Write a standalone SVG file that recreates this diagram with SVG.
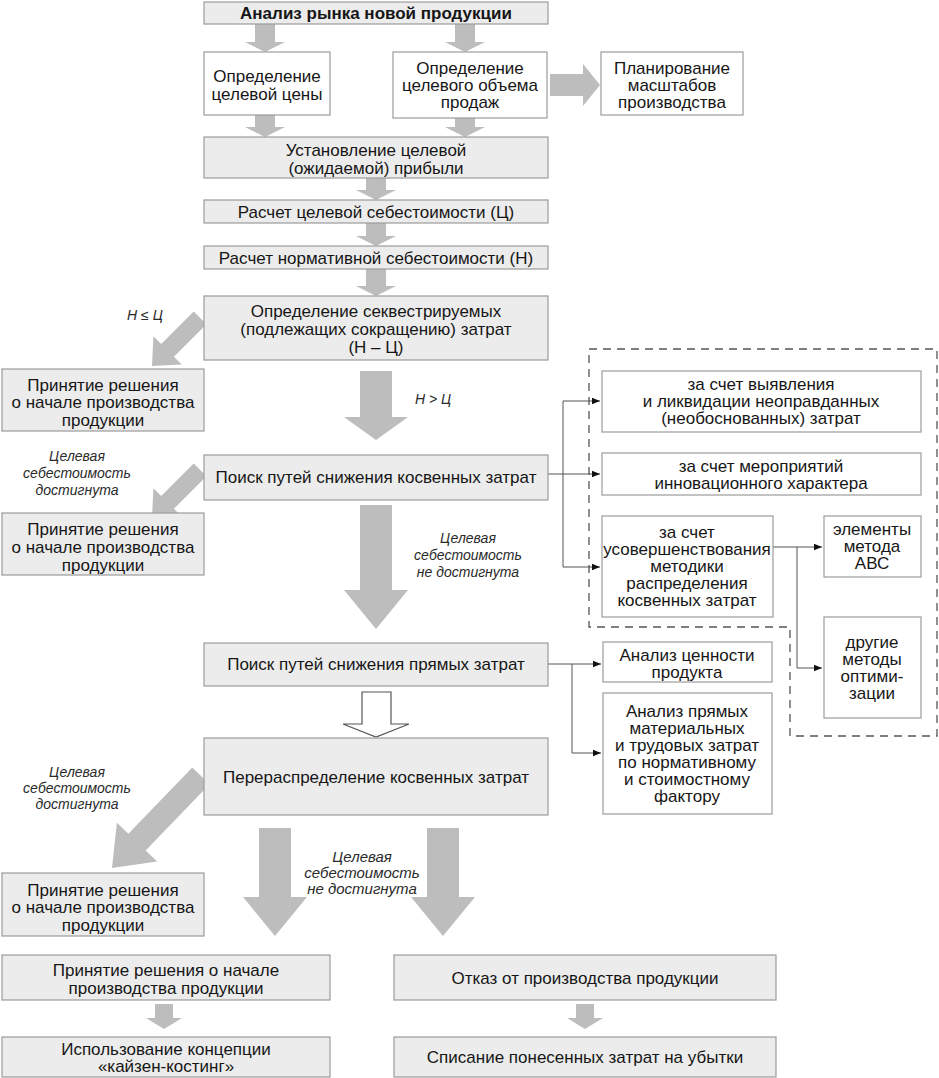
<svg xmlns="http://www.w3.org/2000/svg" width="939" height="1078" viewBox="0 0 939 1078">
<defs>
<style>
.g{fill:#ececec;stroke:#9c9c9c;stroke-width:1.2}
.w{fill:#ffffff;stroke:#9c9c9c;stroke-width:1.2}
.t{font-family:"Liberation Sans",Arial,sans-serif;font-size:17px;fill:#161616;text-anchor:middle}
.b{font-weight:bold}
.n{font-family:"Liberation Sans Narrow","Liberation Sans",Arial,sans-serif;font-size:17px}
.i{font-family:"Liberation Sans",Arial,sans-serif;font-size:14px;font-style:italic;fill:#2a2a2a;text-anchor:middle}
.ni{font-family:"Liberation Sans Narrow","Liberation Sans",Arial,sans-serif;font-size:15px}
.ar{fill:#bdbdbd}
.ln{stroke:#555;stroke-width:1;fill:none}
.ah{stroke:#555;stroke-width:1;fill:none;marker-end:url(#m)}
.hl{fill:#fff;stroke:#555;stroke-width:1.2}
.ds{fill:none;stroke:#555;stroke-width:1.3;stroke-dasharray:8,6}
</style>
<marker id="m" viewBox="0 0 10 10" refX="10" refY="5" markerWidth="10" markerHeight="8" markerUnits="userSpaceOnUse" orient="auto">
<path d="M0,1 L10,5 L0,9 Z" fill="#111"/>
</marker>
<path id="da" d="M-9,-68 H9 V-22 H20 L0,0 L-20,-22 H-9 Z"/>
</defs>

<g id="connectors">
<path class="ar" d="M255,24 H275 V42 H285 L265,52 L245,42 H255 Z"/>
<path class="ar" d="M455,24 H475 V42 H485 L465,52 L445,42 H455 Z"/>
<path class="ar" d="M255,115 H275 V127 H285 L265,137 L245,127 H255 Z"/>
<path class="ar" d="M455,118 H475 V127 H485 L465,137 L445,127 H455 Z"/>
<path class="ar" d="M550,74 H583 V64 L600,85 L583,106 V96 H550 Z"/>
<path class="ar" d="M366,178 H386 V190 H396 L376,200 L356,190 H366 Z"/>
<path class="ar" d="M366,223 H386 V236 H396 L376,246 L356,236 H366 Z"/>
<path class="ar" d="M366,269 H386 V286 H396 L376,296 L356,286 H366 Z"/>
<use class="ar" href="#da" transform="translate(152,366) rotate(45)"/>
<path class="ar" d="M360,371 H392 V417 H408 L376,440 L344,417 H360 Z"/>
<use class="ar" href="#da" transform="translate(152,518) rotate(45)"/>
<path class="ar" d="M360,505 H392 V590 H408 L376,629 L344,590 H360 Z"/>
<path class="hl" d="M362,692 H391 V724 H409 L376,737 L343,724 H362 Z"/>
<path class="ar" transform="translate(112,868) rotate(44)" d="M-12,-128 H12 V-36 H28 L0,0 L-28,-36 H-12 Z"/>
<path class="ar" d="M259,828 H291 V897 H307 L275,936 L243,897 H259 Z"/>
<path class="ar" d="M427,828 H459 V897 H475 L443,936 L411,897 H427 Z"/>
<path class="ar" d="M155,1004 H173 V1018 H182 L164,1029 L146,1018 H155 Z"/>
<path class="ar" d="M576,1004 H594 V1018 H603 L585,1029 L567,1018 H576 Z"/>
<path class="ln" d="M548,474 H563 M563,401 V567"/>
<path class="ah" d="M563,401 H600"/>
<path class="ah" d="M563,474 H600"/>
<path class="ah" d="M563,567 H600"/>
<path class="ln" d="M773,547 H797 V668"/>
<path class="ah" d="M797,547 H822"/>
<path class="ah" d="M797,668 H822"/>
<path class="ln" d="M548,664 H572 V753"/>
<path class="ah" d="M572,664 H601"/>
<path class="ah" d="M572,753 H601"/>
<path class="ds" d="M589,349 H937 V736 H790 V627 H589 Z"/>
</g>

<g id="labels">
<text class="i" x="145" y="320">Н ≤ Ц</text>
<text class="i" x="433" y="404">Н &gt; Ц</text>
<text class="i" x="77" y="461">Целевая</text>
<text class="i" x="77" y="478">себестоимость</text>
<text class="i" x="77" y="495">достигнута</text>
<text class="i" x="468" y="543">Целевая</text>
<text class="i" x="468" y="560">себестоимость</text>
<text class="i" x="468" y="577">не достигнута</text>
<text class="i" x="77" y="777">Целевая</text>
<text class="i" x="77" y="793">себестоимость</text>
<text class="i" x="77" y="809">достигнута</text>
<text class="i ni" x="362" y="862">Целевая</text>
<text class="i ni" x="362" y="878">себестоимость</text>
<text class="i ni" x="362" y="894">не достигнута</text>
</g>

<g id="n1"><rect class="g" x="204" y="2" width="344" height="22"/><text class="t b" x="376" y="19">Анализ рынка новой продукции</text></g>
<g id="n2"><rect class="w" x="204" y="52" width="126" height="63"/><text class="t" x="267" y="82">Определение</text><text class="t" x="267" y="100">целевой цены</text></g>
<g id="n3"><rect class="w" x="393" y="52" width="154" height="66"/><text class="t" x="470" y="74">Определение</text><text class="t" x="470" y="91">целевого объема</text><text class="t" x="470" y="108">продаж</text></g>
<g id="n4"><rect class="w" x="601" y="52" width="142" height="63"/><text class="t" x="672" y="74">Планирование</text><text class="t" x="672" y="91">масштабов</text><text class="t" x="672" y="108">производства</text></g>
<g id="n5"><rect class="g" x="204" y="137" width="344" height="41"/><text class="t" x="376" y="156">Установление целевой</text><text class="t" x="376" y="174">(ожидаемой) прибыли</text></g>
<g id="n6"><rect class="g" x="204" y="200" width="344" height="23"/><text class="t" x="376" y="218">Расчет целевой себестоимости (Ц)</text></g>
<g id="n7"><rect class="g" x="204" y="246" width="344" height="23"/><text class="t" x="376" y="264">Расчет нормативной себестоимости (Н)</text></g>
<g id="n8"><rect class="g" x="204" y="296" width="344" height="64"/><text class="t" x="376" y="317">Определение секвестрируемых</text><text class="t" x="376" y="335">(подлежащих сокращению) затрат</text><text class="t" x="376" y="353">(Н – Ц)</text></g>
<g id="n9"><rect class="g" x="2" y="369" width="202" height="62"/><text class="t" x="103" y="391">Принятие решения</text><text class="t" x="103" y="408">о начале производства</text><text class="t" x="103" y="426">продукции</text></g>
<g id="n10"><rect class="g" x="204" y="455" width="344" height="45"/><text class="t" x="376" y="483">Поиск путей снижения косвенных затрат</text></g>
<g id="n11"><rect class="g" x="2" y="513" width="202" height="62"/><text class="t" x="103" y="535">Принятие решения</text><text class="t" x="103" y="553">о начале производства</text><text class="t" x="103" y="571">продукции</text></g>
<g id="n12"><rect class="w" x="602" y="371" width="319" height="61"/><text class="t" x="761" y="390">за счет выявления</text><text class="t" x="761" y="407">и ликвидации неоправданных</text><text class="t" x="761" y="424">(необоснованных) затрат</text></g>
<g id="n13"><rect class="w" x="602" y="453" width="319" height="42"/><text class="t" x="761" y="472">за счет мероприятий</text><text class="t" x="761" y="489">инновационного характера</text></g>
<g id="n14"><rect class="w" x="602" y="516" width="171" height="101"/><text class="t" x="687" y="538">за счет</text><text class="t" x="687" y="555">усовершенствования</text><text class="t" x="687" y="572">методики</text><text class="t" x="687" y="589">распределения</text><text class="t" x="687" y="606">косвенных затрат</text></g>
<g id="n15"><rect class="w" x="824" y="516" width="97" height="61"/><text class="t" x="872" y="535">элементы</text><text class="t" x="872" y="552">метода</text><text class="t" x="872" y="569">АВС</text></g>
<g id="n16"><rect class="w" x="824" y="617" width="97" height="101"/><text class="t" x="872" y="648">другие</text><text class="t" x="872" y="665">методы</text><text class="t" x="872" y="682">оптими-</text><text class="t" x="872" y="699">зации</text></g>
<g id="n17"><rect class="g" x="204" y="643" width="344" height="43"/><text class="t" x="376" y="670">Поиск путей снижения прямых затрат</text></g>
<g id="n18"><rect class="w" x="603" y="642" width="169" height="40"/><text class="t" x="687" y="661">Анализ ценности</text><text class="t" x="687" y="678">продукта</text></g>
<g id="n19"><rect class="w" x="603" y="693" width="169" height="121"/><text class="t" x="687" y="717">Анализ прямых</text><text class="t" x="687" y="734">материальных</text><text class="t" x="687" y="751">и трудовых затрат</text><text class="t" x="687" y="768">по нормативному</text><text class="t" x="687" y="785">и стоимостному</text><text class="t" x="687" y="802">фактору</text></g>
<g id="n20"><rect class="g" x="204" y="738" width="344" height="77"/><text class="t" x="376" y="783">Перераспределение косвенных затрат</text></g>
<g id="n21"><rect class="g" x="2" y="873" width="202" height="63"/><text class="t n" x="103" y="896">Принятие решения</text><text class="t n" x="103" y="913">о начале производства</text><text class="t n" x="103" y="931">продукции</text></g>
<g id="n22"><rect class="g" x="2" y="955" width="328" height="45"/><text class="t n" x="166" y="976">Принятие решения о начале</text><text class="t n" x="166" y="994">производства продукции</text></g>
<g id="n23"><rect class="g" x="394" y="955" width="382" height="45"/><text class="t n" x="585" y="984">Отказ от производства продукции</text></g>
<g id="n24"><rect class="g" x="2" y="1037" width="328" height="40"/><text class="t n" x="166" y="1055">Использование концепции</text><text class="t n" x="166" y="1072">«кайзен-костинг»</text></g>
<g id="n25"><rect class="g" x="394" y="1037" width="382" height="40"/><text class="t n" x="585" y="1063">Списание понесенных затрат на убытки</text></g>
</svg>
